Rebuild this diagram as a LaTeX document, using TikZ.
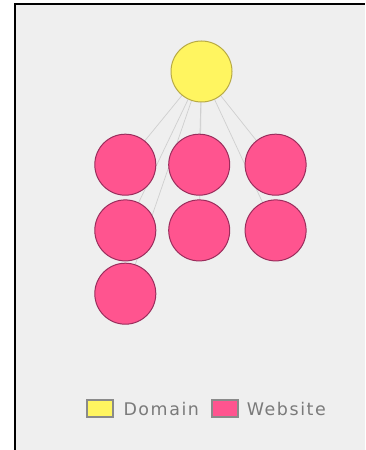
\documentclass[tikz,border=0pt]{standalone}
\usepackage{fontspec}
\newfontfamily\legfont[LetterSpace=9]{DejaVu Sans}
\definecolor{bgray}{HTML}{EFEFEF}
\definecolor{domfill}{HTML}{FFF560}
\definecolor{domline}{HTML}{B8AA44}
\definecolor{webfill}{HTML}{FF548F}
\definecolor{webline}{HTML}{9A2D5C}
\definecolor{edgecol}{HTML}{CFCFCF}
\definecolor{legline}{HTML}{8A8A8A}
\definecolor{legtext}{HTML}{7A7A7A}
\pgfdeclarelayer{bg}
\pgfdeclarelayer{edges}
\pgfsetlayers{bg,edges,main}
\begin{document}
\begin{tikzpicture}[x=1bp,y=-1bp,
  domnode/.style={circle,minimum size=61bp,inner sep=0pt,fill=domfill,draw=domline,line width=1bp},
  webnode/.style={circle,minimum size=61bp,inner sep=0pt,fill=webfill,draw=webline,line width=1bp},
  link/.style={draw=edgecol,line width=0.7bp},
  legbox/.style={rectangle,minimum width=26bp,minimum height=17bp,inner sep=0pt,draw=legline,line width=1.6bp},
  legtxt/.style={anchor=base west,inner sep=0pt,text=legtext,font=\legfont\fontsize{17.5}{20}\selectfont}]
\useasboundingbox (0,0) rectangle (365,450);
\begin{pgfonlayer}{bg}
  \fill[white] (0,0) rectangle (365,450);
  \fill[bgray] (15,4) rectangle (365,450);
  \draw[black,line width=2.4bp] (15.2,450) -- (15.2,4.2) -- (365,4.2);
\end{pgfonlayer}
\node[domnode] (d) at (201.5,71.5) {};
\node[webnode] (w1) at (125.3,164.7) {};
\node[webnode] (w2) at (199.2,164.7) {};
\node[webnode] (w3) at (275.6,164.7) {};
\node[webnode] (w4) at (125.3,230.4) {};
\node[webnode] (w5) at (199.2,230.4) {};
\node[webnode] (w6) at (275.6,230.4) {};
\node[webnode] (w7) at (125.3,293.7) {};
\begin{pgfonlayer}{edges}
  \foreach \w in {w1,w2,w3,w4,w5,w6,w7}
    \draw[link] (d.center) -- (\w.center);
\end{pgfonlayer}
\node[legbox,fill=domfill] (ld) at (99.7,408.3) {};
\node[legtxt] (tdom) at (123.3,415.6) {Domain};
\node[legbox,fill=webfill] (lw) at (225,408.3) {};
\node[legtxt] (tweb) at (246.7,415.6) {Website};
\end{tikzpicture}
\end{document}
